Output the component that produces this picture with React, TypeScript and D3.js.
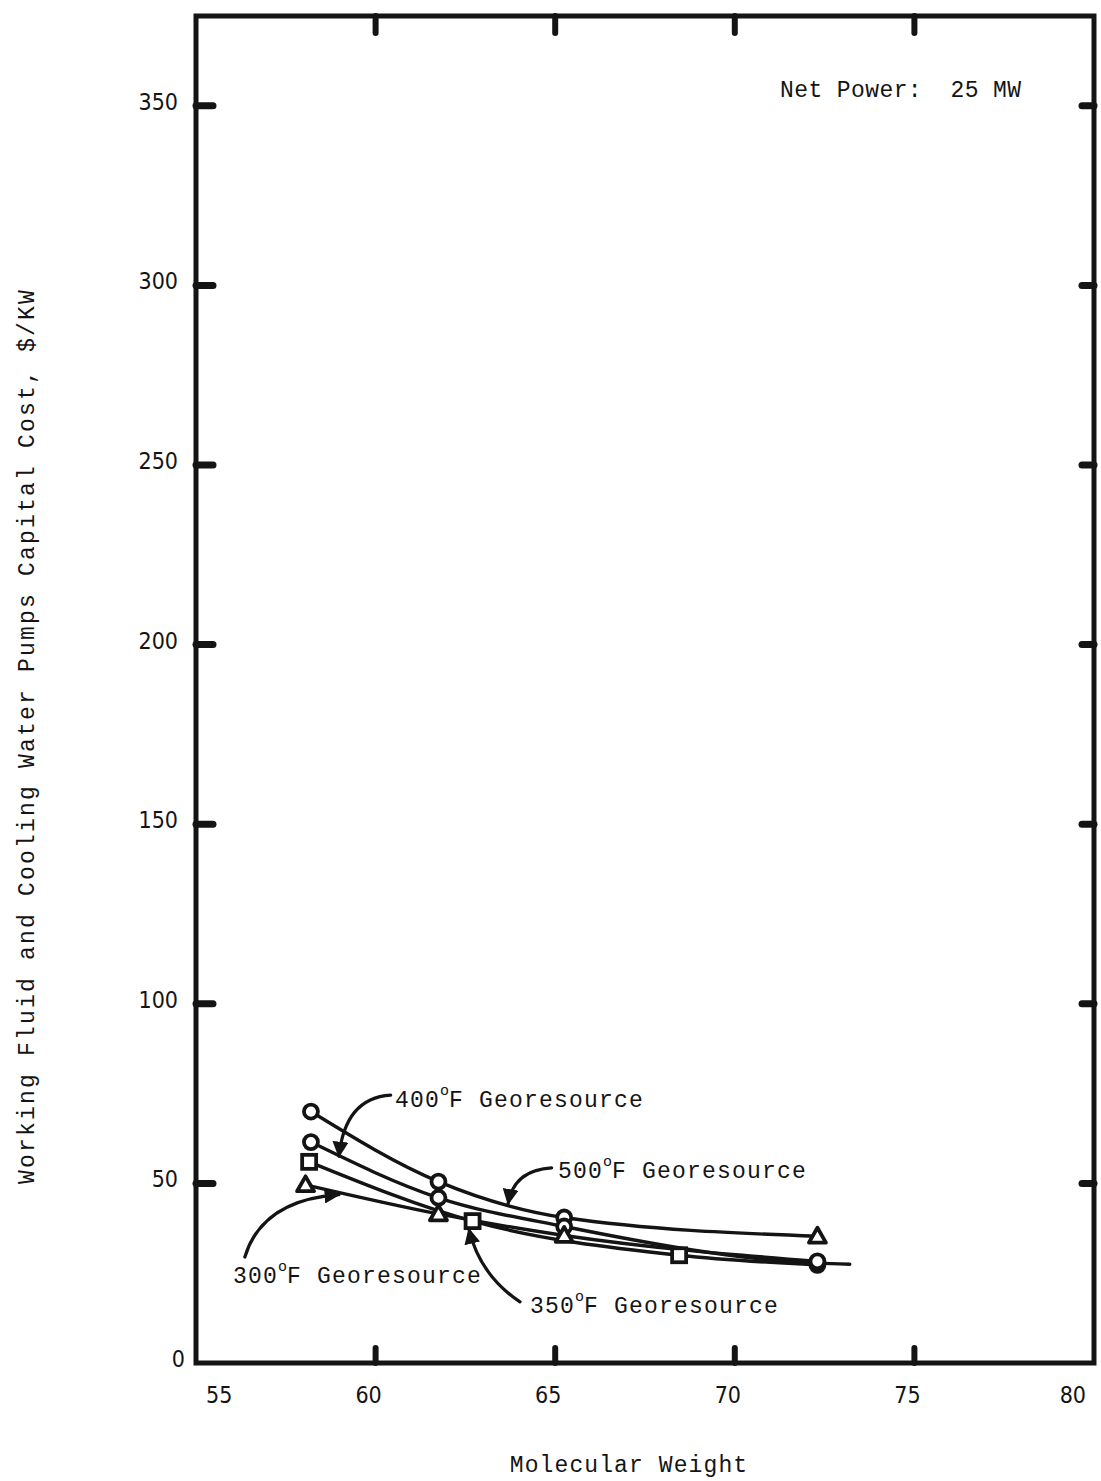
import React from "react";
import * as d3 from "d3";

// Canvas
const W = 1101;
const H = 1481;

// Axis ticks
const xTicks = [55, 60, 65, 70, 75, 80];
const yTicks = [0, 50, 100, 150, 200, 250, 300, 350];

// 500°F georesource
const mw500 = [58.2, 61.75, 65.25, 72.3];
const cost500 = [70, 50.5, 40.5, 35.3];
const sym500 = ["circle", "circle", "circle", "triangle"];

// 400°F georesource (curve runs on past the last symbol)
const mw400 = [58.2, 61.75, 65.25, 72.3, 73.2];
const cost400 = [61.5, 46, 38, 27.8, 27.5];
const sym400 = ["circle", "circle", "circle", "circle", ""];

// 350°F georesource
const mw350 = [58.15, 62.7, 68.45, 72.3];
const cost350 = [56, 39.5, 30, 27.3];
const sym350 = ["square", "square", "square", "circle"];

// 300°F georesource
const mw300 = [58.05, 61.75, 65.25, 72.3];
const cost300 = [49.6, 41.5, 35.5, 28.3];
const sym300 = ["triangle", "triangle", "triangle", "circle"];

const series = [
  { key: "500", mw: mw500, cost: cost500, sym: sym500 },
  { key: "400", mw: mw400, cost: cost400, sym: sym400 },
  { key: "350", mw: mw350, cost: cost350, sym: sym350 },
  { key: "300", mw: mw300, cost: cost300, sym: sym300 },
];

// Callout labels: text anchor, arrow start, bend, tip (data units)
const callouts = [
  { temp: "400", text: [60.54, 71.3], from: [60.42, 74.6], ctrl: [59.15, 73.8], to: [58.98, 57.6] },
  { temp: "500", text: [65.08, 51.5], from: [64.9, 54.3], ctrl: [63.85, 53.7], to: [63.69, 44.4] },
  { temp: "300", text: [56.03, 22.3], from: [56.36, 29.5], ctrl: [56.84, 45.4], to: [58.98, 46.9] },
  { temp: "350", text: [64.3, 13.9], from: [64.02, 17.0], ctrl: [62.9, 24.5], to: [62.6, 37.2] },
];

const netPowerAt = [71.26, 352.4];

const INK = "#141414";
const MONO = "'Liberation Mono', 'DejaVu Sans Mono', monospace";
const NARROW = "'Liberation Sans Narrow', 'DejaVu Sans Condensed', 'Liberation Sans', sans-serif";

function Symbol({ kind, cx, cy }: { kind: string; cx: number; cy: number }) {
  if (kind === "circle") {
    return <circle cx={cx} cy={cy} r={7} fill="#fff" stroke={INK} strokeWidth={3.8} />;
  }
  if (kind === "square") {
    return <rect x={cx - 7} y={cy - 7} width={14} height={14} fill="#fff" stroke={INK} strokeWidth={3.8} />;
  }
  if (kind === "triangle") {
    const s = 8.5;
    const p = `M${cx},${cy - s} L${cx + s},${cy + s * 0.75} L${cx - s},${cy + s * 0.75} Z`;
    return <path d={p} fill="#fff" stroke={INK} strokeWidth={3.8} strokeLinejoin="round" />;
  }
  return null;
}

function GeoLabel({ x, y, temp }: { x: number; y: number; temp: string }) {
  return (
    <text x={x} y={y} fontFamily={MONO} fontSize={23} letterSpacing={1.2} fill={INK}>
      {temp}
      <tspan dy={-12} fontSize={15} letterSpacing={0}>o</tspan>
      <tspan dy={12}>F Georesource</tspan>
    </text>
  );
}

export default function App() {
  const x = d3.scaleLinear().domain([55, 80]).range([196, 1094]);
  const y = d3.scaleLinear().domain([0, 375]).range([1363, 16]);

  const line = d3
    .line<[number, number]>()
    .x((d) => x(d[0]))
    .y((d) => y(d[1]))
    .curve(d3.curveMonotoneX);

  const x0 = x(55);
  const x1 = x(80);
  const y0 = y(0);
  const yTop = y(375);

  return (
    <svg width={W} height={H} viewBox={`0 0 ${W} ${H}`}
      style={{ display: "block", background: "#fff", position: "absolute", left: 0, top: 0 }}>
      <defs>
        <marker id="arrowTip" viewBox="0 0 10 10" refX={9} refY={5} markerWidth={5} markerHeight={5} orient="auto" markerUnits="strokeWidth">
          <path d="M0,0 L10,5 L0,10 Z" fill={INK} />
        </marker>
      </defs>

      {/* frame */}
      <rect x={x0} y={yTop} width={x1 - x0} height={y0 - yTop} fill="none" stroke={INK} strokeWidth={5} />

      {/* left and right ticks */}
      {yTicks.filter((t) => t > 0).map((t) => (
        <g key={`yt${t}`}>
          <line x1={x0} x2={x0 + 17} y1={y(t)} y2={y(t)} stroke={INK} strokeWidth={7} strokeLinecap="round" />
          <line x1={x1} x2={x1 - 12} y1={y(t)} y2={y(t)} stroke={INK} strokeWidth={7} strokeLinecap="round" />
        </g>
      ))}

      {/* bottom and top ticks */}
      {xTicks.slice(1, -1).map((t) => (
        <g key={`xt${t}`}>
          <line x1={x(t)} x2={x(t)} y1={y0} y2={y0 - 15} stroke={INK} strokeWidth={6} strokeLinecap="round" />
          <line x1={x(t)} x2={x(t)} y1={yTop} y2={yTop + 17} stroke={INK} strokeWidth={6} strokeLinecap="round" />
        </g>
      ))}

      {/* y tick labels */}
      {yTicks.map((t) => (
        <text key={`yl${t}`} x={t === 0 ? x0 - 11 : x0 - 18} y={y(t) - 4} dy="0.35em" textAnchor="end"
          fontFamily={NARROW} fontSize={23} fill={INK}>
          {t}
        </text>
      ))}

      {/* x tick labels */}
      {xTicks.map((t, i) => {
        const first = i === 0;
        const last = i === xTicks.length - 1;
        return (
          <text key={`xl${t}`} x={x(t) + (first ? 10 : last ? -8 : -7)} y={y0 + 40}
            textAnchor={first ? "start" : last ? "end" : "middle"} fontFamily={NARROW} fontSize={23} fill={INK}>
            {t}
          </text>
        );
      })}

      {/* axis titles */}
      <text x={629} y={1472} textAnchor="middle" fontFamily={MONO} fontSize={23} letterSpacing={1.1} fill={INK}>
        Molecular Weight
      </text>
      <text transform={`translate(34,736) rotate(-90)`} textAnchor="middle" fontFamily={MONO} fontSize={23}
        letterSpacing={2.2} fill={INK}>
        Working Fluid and Cooling Water Pumps Capital Cost, $/KW
      </text>

      {/* curves */}
      {series.map((s) => (
        <path key={`ln${s.key}`} d={line(s.mw.map((m, i) => [m, s.cost[i]] as [number, number])) || ""}
          fill="none" stroke={INK} strokeWidth={3.4} strokeLinejoin="round" strokeLinecap="round" />
      ))}

      {/* symbols */}
      {series.map((s) =>
        s.mw.map((m, i) => <Symbol key={`sy${s.key}${i}`} kind={s.sym[i]} cx={x(m)} cy={y(s.cost[i])} />)
      )}

      {/* callouts */}
      {callouts.map((c) => (
        <g key={`co${c.temp}`}>
          <path d={`M${x(c.from[0])},${y(c.from[1])} Q${x(c.ctrl[0])},${y(c.ctrl[1])} ${x(c.to[0])},${y(c.to[1])}`}
            fill="none" stroke={INK} strokeWidth={3.2} strokeLinecap="round" markerEnd="url(#arrowTip)" />
          <GeoLabel x={x(c.text[0])} y={y(c.text[1])} temp={c.temp} />
        </g>
      ))}

      <text x={x(netPowerAt[0])} y={y(netPowerAt[1])} fontFamily={MONO} fontSize={23} letterSpacing={0.4}
        fill={INK} style={{ whiteSpace: "pre" }}>
        {"Net Power:  25 MW"}
      </text>
    </svg>
  );
}
